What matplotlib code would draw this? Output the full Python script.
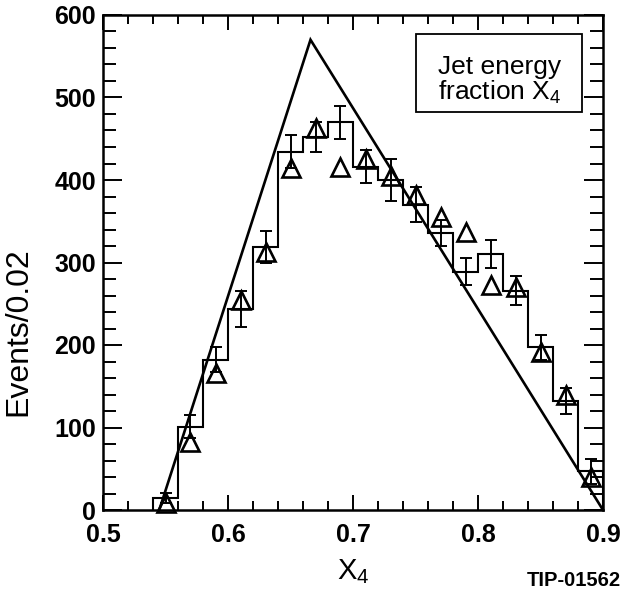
import numpy as np
import matplotlib
matplotlib.use("Agg")
import matplotlib.pyplot as plt
from matplotlib.patches import Rectangle
from matplotlib.ticker import MultipleLocator

plt.rcParams['font.family'] = ['Liberation Sans', 'DejaVu Sans']
plt.rcParams['mathtext.fontset'] = 'custom'
plt.rcParams['mathtext.rm'] = 'Liberation Sans'
plt.rcParams['mathtext.it'] = 'Liberation Sans'
plt.rcParams['mathtext.bf'] = 'Liberation Sans:bold'

# histogram bins (width 0.02)
bin_edges = [0.54, 0.56, 0.58, 0.60, 0.62, 0.64, 0.66, 0.68, 0.70, 0.72,
             0.74, 0.76, 0.78, 0.80, 0.82, 0.84, 0.86, 0.88, 0.90]
bin_centers = [0.55, 0.57, 0.59, 0.61, 0.63, 0.65, 0.67, 0.69, 0.71, 0.73,
               0.75, 0.77, 0.79, 0.81, 0.83, 0.85, 0.87, 0.89]
hist_counts = [15, 101, 182, 244, 319, 434, 452, 470, 416, 400,
               370, 336, 289, 310, 266, 197, 132, 47]
hist_errors = [6, 14, 15, 22, 19, 20, 18, 20, 20, 26,
               21, 16, 16, 17, 18, 15, 16, 15]
# open triangles
tri_counts = [8, 82, 166, 254, 313, 414, 463, 416, 426, 405,
              382, 355, 337, 273, 270, 192, 139, 40]
# phase-space line
line_x = [0.545, 0.666, 0.90]
line_y = [0, 570, 0]

fig = plt.figure(figsize=(6.23, 5.97), dpi=100)
ax = fig.add_axes([103 / 623, 1 - 510 / 597, 500 / 623, 495 / 597])

ax.plot(line_x, line_y, color='black', lw=1.9, solid_joinstyle='miter')
ax.stairs(hist_counts, bin_edges, baseline=0, color='black', lw=1.5)
ax.errorbar(bin_centers, hist_counts, yerr=hist_errors, fmt='none',
            ecolor='black', elinewidth=1.4, capsize=4, capthick=1.4)
ax.plot(bin_centers, tri_counts, linestyle='none', marker='^', markersize=13.5,
        markerfacecolor='none', markeredgecolor='black', markeredgewidth=1.9,
        clip_on=False)

ax.set_xlim(0.5, 0.9)
ax.set_ylim(0, 600)
ax.xaxis.set_minor_locator(MultipleLocator(0.02))
ax.yaxis.set_major_locator(MultipleLocator(100))
ax.yaxis.set_minor_locator(MultipleLocator(20))
ax.set_xticks([0.5, 0.6, 0.7, 0.8, 0.9])
ax.set_xticklabels(['0.5', '0.6', '0.7', '0.8', '0.9'])

ax.tick_params(axis='both', which='both', direction='in', top=True, right=True,
               width=1.4, color='black')
ax.tick_params(axis='x', which='major', length=10.5, pad=9)
ax.tick_params(axis='x', which='minor', length=6.5)
ax.tick_params(axis='y', which='major', length=14, pad=5)
ax.tick_params(axis='y', which='minor', length=9.5)
for lbl in ax.get_xticklabels() + ax.get_yticklabels():
    lbl.set_fontsize(18)
    lbl.set_fontweight('bold')
for sp in ax.spines.values():
    sp.set_linewidth(1.8)

ax.set_xlabel(r'X$_4$', fontsize=21)
ax.xaxis.set_label_coords(0.5, -0.095)
ax.set_ylabel('Events/0.02', fontsize=23)
ax.yaxis.set_label_coords(-0.14, 0.36)

# label box
ax.add_patch(Rectangle((0.626, 0.804), 0.332, 0.158, transform=ax.transAxes,
                       facecolor='white', edgecolor='black', lw=1.3))
ax.text(0.794, 0.867, 'Jet energy\nfraction X$_4$', transform=ax.transAxes,
        fontsize=19, ha='center', va='center', linespacing=1.0)

fig.text(0.996, 0.012, 'TIP-01562', fontsize=14.5, fontweight='bold',
         ha='right', va='bottom')

fig.savefig('out.png', dpi=100)
